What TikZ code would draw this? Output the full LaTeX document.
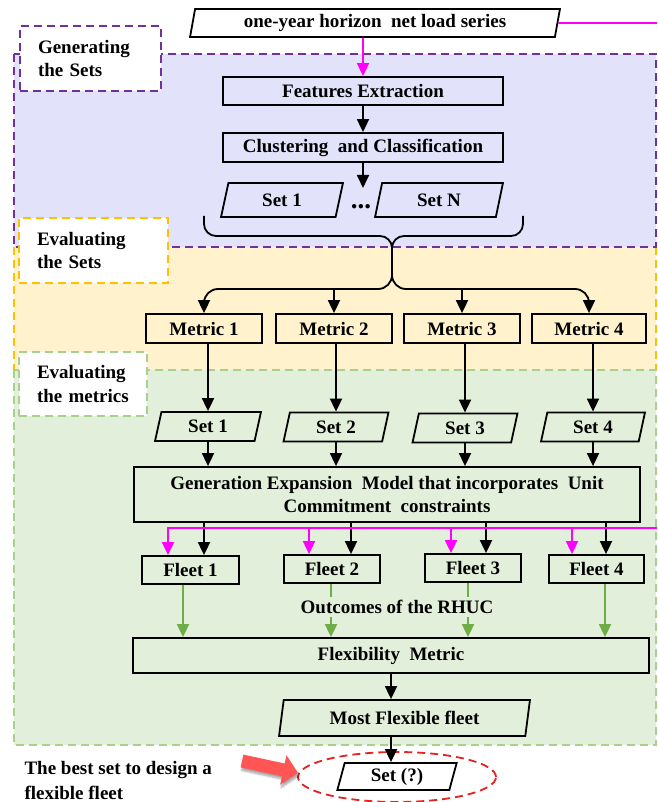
\documentclass[tikz,border=0pt]{standalone}
\usepackage{fontspec}
\setmainfont{Liberation Serif}
\usetikzlibrary{shapes.geometric,arrows.meta,shadows.blur}

\definecolor{lavfill}{RGB}{226,226,250}
\definecolor{purpleline}{RGB}{112,48,160}
\definecolor{orangefill}{RGB}{255,242,204}
\definecolor{orangeline}{RGB}{255,192,0}
\definecolor{greenfill}{RGB}{226,239,218}
\definecolor{greenline}{RGB}{169,209,142}
\definecolor{arrowgreen}{RGB}{112,173,71}
\definecolor{magentaline}{RGB}{255,0,255}
\definecolor{redarrow}{RGB}{255,85,85}
\definecolor{redring}{RGB}{232,32,32}

\tikzset{
  box/.style={draw=black, line width=1.8pt, inner sep=0pt},
  para/.style={trapezium, trapezium left angle=78, trapezium right angle=102,
    trapezium stretches=true, draw=black, line width=1.8pt, inner sep=0pt},
  region/.style={line width=1.8pt, dash pattern=on 8pt off 5pt},
  tag/.style={draw, fill=white, line width=1.8pt, dash pattern=on 8pt off 5pt,
    align=left, inner xsep=18pt, inner ysep=0pt},
  arr/.style={line width=1.8pt, -{Triangle[length=13pt,width=12pt]}},
}

\begin{document}
\begin{tikzpicture}[x=1pt, y=-1pt, font=\fontsize{19}{23.5}\selectfont\bfseries]
\useasboundingbox (0,0) rectangle (657,802);
\clip (0,0) rectangle (657,802);

% stage backgrounds
\fill[orangefill] (14,247) rectangle (656,370);
\draw[region, orangeline] (14,247) -- (14,370);
\draw[region, orangeline] (656,247) -- (656,370);
\draw[region, purpleline, fill=lavfill] (14,54) rectangle (656,247);
\draw[region, greenline, fill=greenfill] (14,370) rectangle (656,745);

% stage labels
\node[tag, draw=purpleline, text width=105pt, minimum height=65pt] (tgen) at (90.5,58.5) {Generating\\the Sets};
\node[tag, draw=orangeline, text width=113pt, minimum height=65pt] (tsets) at (93.5,250.5) {Evaluating\\the Sets};
\node[tag, draw=greenline, text width=92pt, minimum height=64pt] (tmet) at (83,384) {Evaluating\\the metrics};

% generating the sets
\node[para, fill=white, minimum width=370pt, minimum height=28pt] (top) at (375,23) {one-year horizon\enspace net load series};
\node[box, fill=lavfill, minimum width=280pt, minimum height=28pt] (feat) at (363,91) {Features Extraction};
\node[box, fill=lavfill, minimum width=280pt, minimum height=29pt] (clust) at (363,147.5) {Clustering\enspace and Classification};
\node[para, fill=lavfill, minimum width=122pt, minimum height=34pt] (sa) at (282,200) {Set 1};
\node[para, fill=lavfill, minimum width=128pt, minimum height=34pt] (sn) at (439,200) {Set N};
\node[inner sep=0pt, anchor=base, font=\fontsize{27}{27}\selectfont\bfseries] (dots) at (361,208) {...};
\coordinate (dotsin) at (363,188);

\draw[arr, magentaline] (top.south -| feat.north) -- (feat.north);
\draw[arr] (feat.south) -- (clust.north);
\draw[arr] (clust.south) -- (dotsin);

% brace gathering the sets
\coordinate (tip) at (392,250);
\coordinate (split) at (392,289);
\draw[line width=1.8pt, rounded corners=12pt] (204,216) |- (392,236) -- (392,262);
\draw[line width=1.8pt, rounded corners=12pt] (523,216) |- (392,236) -- (392,262);

% metrics
\node[box, fill=orangefill, minimum width=116pt, minimum height=29pt] (m1) at (204,328.5) {Metric 1};
\node[box, fill=orangefill, minimum width=116pt, minimum height=29pt] (m2) at (334,328.5) {Metric 2};
\node[box, fill=orangefill, minimum width=116pt, minimum height=29pt] (m3) at (462,328.5) {Metric 3};
\node[box, fill=orangefill, minimum width=114pt, minimum height=29pt] (m4) at (589,328.5) {Metric 4};

\draw[arr, rounded corners=14pt] (tip) -- (split) -| (m1.north);
\draw[arr, rounded corners=14pt] (tip) -- (split) -| (m4.north);
\draw[arr] (m2.north |- split) -- (m2.north);
\draw[arr] (m3.north |- split) -- (m3.north);

% selected sets
\node[para, fill=greenfill, minimum width=106pt, minimum height=29pt] (s1) at (208,426.5) {Set 1};
\node[para, fill=greenfill, minimum width=105pt, minimum height=29pt] (s2) at (336,427) {Set 2};
\node[para, fill=greenfill, minimum width=105pt, minimum height=29pt] (s3) at (465,428) {Set 3};
\node[para, fill=greenfill, minimum width=104pt, minimum height=29pt] (s4) at (593,427) {Set 4};

\foreach \i in {1,...,4}{
  \draw[arr] (s\i.north |- m\i.south) -- (s\i.north);
}

% expansion model
\node[box, fill=greenfill, minimum width=506pt, minimum height=55pt, align=center] (gem) at (387,494.5)
  {Generation Expansion\enspace Model that incorporates\enspace Unit\\Commitment\enspace constraints};

\foreach \i in {1,...,4}{
  \draw[arr] (s\i.south) -- (s\i.south |- gem.north);
}

% fleets
\node[box, fill=greenfill, minimum width=97pt, minimum height=28pt] (f1) at (190.5,570) {Fleet 1};
\node[box, fill=greenfill, minimum width=96pt, minimum height=28pt] (f2) at (332,569) {Fleet 2};
\node[box, fill=greenfill, minimum width=96pt, minimum height=28pt] (f3) at (473,568) {Fleet 3};
\node[box, fill=greenfill, minimum width=95pt, minimum height=28pt] (f4) at (596.5,569) {Fleet 4};

\draw[arr] ([xshift=13.5pt]f1.north |- gem.south) -- ([xshift=13.5pt]f1.north);
\draw[arr] ([xshift=19pt]f2.north |- gem.south) -- ([xshift=19pt]f2.north);
\draw[arr] ([xshift=13pt]f3.north |- gem.south) -- ([xshift=13pt]f3.north);
\draw[arr] ([xshift=9.5pt]f4.north |- gem.south) -- ([xshift=9.5pt]f4.north);

% net load feed into the fleet runs
\coordinate (feed) at (700,528);
\draw[line width=1.8pt, magentaline] (top.east) -- (700,23) -- (feed);
\draw[arr, magentaline] (feed) -| ([xshift=-22.5pt]f1.north);
\draw[arr, magentaline] ([xshift=-23pt]f2.north |- feed) -- ([xshift=-23pt]f2.north);
\draw[arr, magentaline] ([xshift=-22pt]f3.north |- feed) -- ([xshift=-22pt]f3.north);
\draw[arr, magentaline] ([xshift=-24.5pt]f4.north |- feed) -- ([xshift=-24.5pt]f4.north);

% flexibility evaluation
\node[box, fill=greenfill, minimum width=516pt, minimum height=35pt] (flex) at (391,655.5) {Flexibility\enspace Metric};

\draw[arr, arrowgreen] ([xshift=-7.5pt]f1.south) -- ([xshift=-7.5pt]f1.south |- flex.north);
\draw[arr, arrowgreen] ([xshift=-1pt]f2.south) -- ([xshift=-1pt]f2.south |- flex.north);
\draw[arr, arrowgreen] ([xshift=-5pt]f3.south) -- ([xshift=-5pt]f3.south |- flex.north);
\draw[arr, arrowgreen] ([xshift=8.5pt]f4.south) -- ([xshift=8.5pt]f4.south |- flex.north);

\node[fill=greenfill, inner xsep=2pt, inner ysep=3pt] (rhuc) at (397,607) {Outcomes of the RHUC};

\node[para, fill=greenfill, minimum width=251pt, minimum height=36pt] (mf) at (404.5,718) {Most Flexible fleet};
\node[para, fill=white, minimum width=120pt, minimum height=27pt] (setq) at (397,776.5) {Set (?)};
\node[ellipse, draw=redring, line width=1.8pt, dash pattern=on 8pt off 5pt,
  minimum width=198pt, minimum height=50pt, inner sep=0pt] (ring) at (397,777) {};

\draw[arr] (flex.south) -- (mf.north -| flex.south);
\draw[arr] (mf.south -| flex.south) -- (setq.north -| flex.south);

% pointer to the chosen set
\path[fill=redarrow, blur shadow={shadow xshift=1pt, shadow yshift=-3pt, shadow opacity=35, shadow blur steps=6}]
  (243.4,754.6) -- (284.7,763.5) -- (286.4,755.2) -- (298,773) -- (280.2,784.6)
  -- (281.9,776.3) -- (240.6,767.4) -- cycle;

\node[align=left, anchor=west, font=\fontsize{19}{25}\selectfont\bfseries] (note) at (21,780)
  {The best set to design a\\flexible fleet};
\end{tikzpicture}
\end{document}
